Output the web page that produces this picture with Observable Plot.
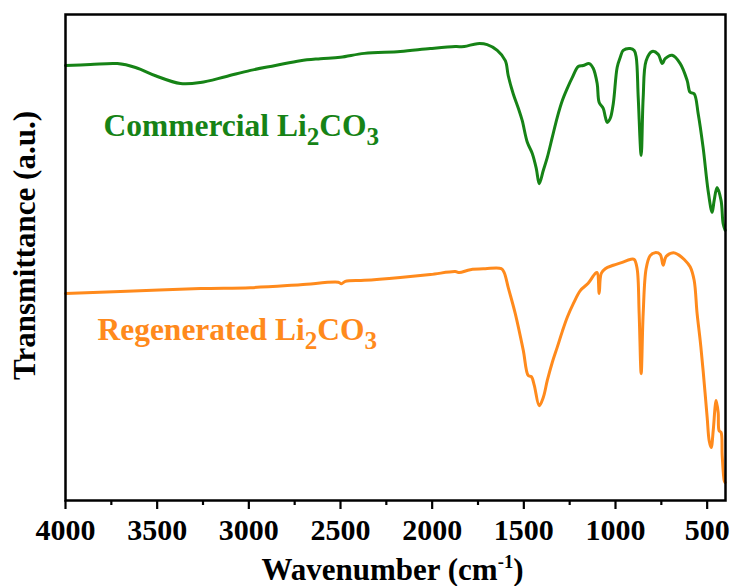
<!DOCTYPE html>
<html>
<head>
<meta charset="utf-8">
<script src="https://cdn.jsdelivr.net/npm/d3@7"></script>
<script src="https://cdn.jsdelivr.net/npm/@observablehq/plot@0.6"></script>
<style>
  html, body { margin: 0; padding: 0; background: #fff; }
  #chart { width: 734px; height: 586px; }
</style>
</head>
<body>
<div id="chart"></div>
<script>
// ---- Data (transmittance in arbitrary units) ----
const commercialWavenumber = [4000,3864,3717,3618,3509,3373,3264,3128,2991,2855,2719,2610,2501,2370,2174,2010,1874,1825,1754,1700,1645,1601,1585,1558,1530,1509,1481,1454,1432,1416,1394,1372,1345,1318,1290,1263,1236,1203,1176,1143,1121,1100,1089,1067,1056,1045,1029,1012,991,974,958,920,898,887,876,860,849,833,800,767,745,729,691,647,609,593,571,549,522,495,473,462,446,424,413,402];
const commercialT = [89.5,89.7,89.9,89.1,87.4,85.8,86.0,87.2,88.5,89.5,90.5,90.9,91.2,92.0,92.4,93.0,93.4,93.4,94.0,93.8,92.6,90.5,87.4,83.7,80.7,78.2,73.7,71.4,68.3,65.2,67.9,70.6,74.7,78.8,82.3,84.8,87.0,89.3,89.5,89.9,88.9,85.8,81.9,80.7,79.0,77.8,78.6,81.7,89.1,91.2,92.6,93.0,92.6,91.2,82.9,71.0,82.9,90.5,92.4,91.8,89.9,90.9,91.6,89.9,86.4,84.0,83.7,79.6,72.6,63.8,59.3,61.7,64.4,61.7,57.0,55.6];

const regeneratedWavenumber = [4000,3700,3264,2991,2719,2512,2495,2474,2370,2174,2010,1874,1852,1792,1710,1623,1607,1585,1547,1503,1476,1459,1443,1416,1394,1372,1345,1318,1290,1263,1230,1192,1149,1111,1100,1089,1078,1056,1012,963,920,898,882,871,860,849,833,811,784,756,740,724,685,658,625,593,571,555,538,522,500,489,478,467,456,451,440,435,424,418,407,402];
const regeneratedT = [42.6,43.0,43.6,43.8,44.4,44.9,44.6,45.1,45.3,45.9,46.5,47.1,46.9,47.5,47.7,47.7,46.9,43.8,38.5,30.9,25.7,25.5,23.7,19.5,21.2,24.7,28.4,31.5,34.8,37.7,40.5,43.2,44.7,46.7,46.9,42.6,46.7,47.7,48.4,49.0,49.6,49.6,47.7,38.5,26.1,38.5,47.7,50.4,51.0,50.6,48.4,50.2,51.0,50.6,49.6,48.1,45.3,38.5,32.9,26.7,17.1,12.3,10.9,14.4,19.5,20.6,18.1,14.4,14.0,9.3,4.1,3.7];

const majorTicks = [4000,3500,3000,2500,2000,1500,1000,500];
const minorTicks = [3750,3250,2750,2250,1750,1250,750];

const seriesNames = ["Commercial Li2CO3", "Regenerated Li2CO3"];
const seriesColors = ["#168316", "#ff8a1c"];
const labelX = [3793, 3826];
const labelY = [75.1, 33.1];

const xTitle = "Wavenumber (cm-1)";
const yTitle = "Transmittance (a.u.)";

// ---- Build tables ----
const commercial = commercialWavenumber.map((w, i) => ({w, t: commercialT[i]}));
const regenerated = regeneratedWavenumber.map((w, i) => ({w, t: regeneratedT[i]}));
const labels = seriesNames.map((name, i) => ({name, x: labelX[i], y: labelY[i], color: seriesColors[i]}));

const FONT = "'Liberation Serif', 'Times New Roman', Times, serif";

const chart = Plot.plot({
  width: 734,
  height: 586,
  marginLeft: 65,
  marginRight: 9,
  marginTop: 14,
  marginBottom: 86,
  style: {fontFamily: FONT, fontWeight: "bold", fontSize: "30px", color: "black", background: "white", overflow: "visible"},
  x: {domain: [4000, 400], axis: null},
  y: {domain: [0, 100], axis: null},
  marks: [
    Plot.axisX(majorTicks, {tickSize: 9, tickPadding: 9, tickFormat: "d", strokeWidth: 2.2, fontSize: 30, fontWeight: "bold", fill: "black"}),
    Plot.axisX(minorTicks, {tickSize: 5, tickFormat: null, text: null, strokeWidth: 2.2}),
    Plot.line(commercial, {x: "w", y: "t", stroke: seriesColors[0], strokeWidth: 3, curve: "catmull-rom"}),
    Plot.line(regenerated, {x: "w", y: "t", stroke: seriesColors[1], strokeWidth: 3, curve: "catmull-rom"}),
    Plot.text(labels, {x: "x", y: "y", text: "name", fill: "color", fontSize: 31.5, fontWeight: "bold", textAnchor: "start", lineAnchor: "bottom"}),
    Plot.text([xTitle], {frameAnchor: "bottom", text: d => d, textAnchor: "middle", dx: -3, dy: 79, fontSize: 31, fontWeight: "bold", lineAnchor: "bottom", fill: "black"}),
    Plot.text([yTitle], {frameAnchor: "left", text: d => d, textAnchor: "middle", rotate: -90, dx: -40, dy: -12, fontSize: 31, fontWeight: "bold", fill: "black"}),
    Plot.frame({stroke: "black", strokeWidth: 2.5})
  ]
});

document.getElementById("chart").appendChild(chart);

// ---- Rich text (subscripts / superscripts) as real tspans ----
function richify(root, plain, segments) {
  d3.select(root).selectAll("text")
    .filter(function () { return this.textContent === plain; })
    .each(function () {
      const t = d3.select(this);
      t.text(null);
      let shift = 0;
      for (const [str, kind, size, off] of segments) {
        const ts = t.append("tspan").text(str);
        const target = off || 0;
        if (target !== shift) ts.attr("dy", target - shift);
        if (size) ts.attr("font-size", size);
        shift = target;
      }
    });
}
for (const name of seriesNames) {
  const base = name.replace("Li2CO3", "Li");
  richify(chart, name, [[base, "n"], ["2", "sub", "0.8em", 9], ["CO", "n", null, 0], ["3", "sub", "0.8em", 9]]);
}
richify(chart, xTitle, [["Wavenumber (cm", "n"], ["-1", "sup", "0.6em", -12], [")", "n", null, 0]]);
</script>
</body>
</html>
